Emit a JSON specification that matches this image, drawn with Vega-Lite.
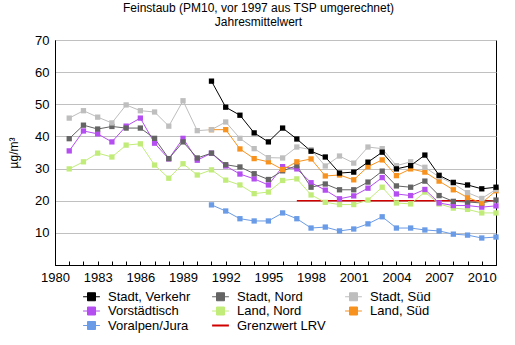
{
  "$schema": "https://vega.github.io/schema/vega-lite/v6.json",
  "width": 441,
  "height": 225,
  "autosize": {"type": "none"},
  "padding": {"left": 55, "top": 40, "right": 19, "bottom": 80},
  "background": "white",
  "config": {
    "font": "Liberation Sans",
    "view": {"stroke": "black", "strokeWidth": 1},
    "axis": {"labelFont": "Liberation Sans", "labelFontSize": 13, "labelColor": "black", "titleFont": "Liberation Sans", "titleColor": "black", "domainColor": "black", "tickColor": "black", "labelOverlap": false}
  },
  "title": {
    "text": "Feinstaub (PM10, vor 1997 aus TSP umgerechnet)",
    "subtitle": "Jahresmittelwert",
    "font": "Liberation Sans",
    "subtitleFont": "Liberation Sans",
    "fontSize": 12,
    "fontWeight": "normal",
    "subtitleFontSize": 12,
    "color": "black",
    "subtitleColor": "black",
    "anchor": "middle",
    "dx": -17,
    "offset": 5,
    "subtitlePadding": 2
  },
  "datasets": {
    "pm": [
      {"s": "Grenzwert LRV", "year": 1997, "v": 20},
      {"s": "Grenzwert LRV", "year": 2011, "v": 20},
      {"s": "Voralpen/Jura", "year": 1991, "v": 18.7},
      {"s": "Voralpen/Jura", "year": 1992, "v": 16.8},
      {"s": "Voralpen/Jura", "year": 1993, "v": 14.4},
      {"s": "Voralpen/Jura", "year": 1994, "v": 13.7},
      {"s": "Voralpen/Jura", "year": 1995, "v": 13.7},
      {"s": "Voralpen/Jura", "year": 1996, "v": 16.2},
      {"s": "Voralpen/Jura", "year": 1997, "v": 14.4},
      {"s": "Voralpen/Jura", "year": 1998, "v": 11.5},
      {"s": "Voralpen/Jura", "year": 1999, "v": 11.8},
      {"s": "Voralpen/Jura", "year": 2000, "v": 10.6},
      {"s": "Voralpen/Jura", "year": 2001, "v": 11.2},
      {"s": "Voralpen/Jura", "year": 2002, "v": 12.8},
      {"s": "Voralpen/Jura", "year": 2003, "v": 15.0},
      {"s": "Voralpen/Jura", "year": 2004, "v": 11.5},
      {"s": "Voralpen/Jura", "year": 2005, "v": 11.5},
      {"s": "Voralpen/Jura", "year": 2006, "v": 10.9},
      {"s": "Voralpen/Jura", "year": 2007, "v": 10.6},
      {"s": "Voralpen/Jura", "year": 2008, "v": 9.6},
      {"s": "Voralpen/Jura", "year": 2009, "v": 9.3},
      {"s": "Voralpen/Jura", "year": 2010, "v": 8.4},
      {"s": "Voralpen/Jura", "year": 2011, "v": 8.7},
      {"s": "Land, Nord", "year": 1981, "v": 29.9},
      {"s": "Land, Nord", "year": 1982, "v": 32.1},
      {"s": "Land, Nord", "year": 1983, "v": 34.8},
      {"s": "Land, Nord", "year": 1984, "v": 33.6},
      {"s": "Land, Nord", "year": 1985, "v": 37.3},
      {"s": "Land, Nord", "year": 1986, "v": 37.7},
      {"s": "Land, Nord", "year": 1987, "v": 31.1},
      {"s": "Land, Nord", "year": 1988, "v": 27.0},
      {"s": "Land, Nord", "year": 1989, "v": 31.5},
      {"s": "Land, Nord", "year": 1990, "v": 28.0},
      {"s": "Land, Nord", "year": 1991, "v": 29.6},
      {"s": "Land, Nord", "year": 1992, "v": 26.4},
      {"s": "Land, Nord", "year": 1993, "v": 24.9},
      {"s": "Land, Nord", "year": 1994, "v": 22.2},
      {"s": "Land, Nord", "year": 1995, "v": 22.7},
      {"s": "Land, Nord", "year": 1996, "v": 26.3},
      {"s": "Land, Nord", "year": 1997, "v": 26.8},
      {"s": "Land, Nord", "year": 1998, "v": 21.8},
      {"s": "Land, Nord", "year": 1999, "v": 19.5},
      {"s": "Land, Nord", "year": 2000, "v": 18.8},
      {"s": "Land, Nord", "year": 2001, "v": 18.8},
      {"s": "Land, Nord", "year": 2002, "v": 20.2},
      {"s": "Land, Nord", "year": 2003, "v": 24.2},
      {"s": "Land, Nord", "year": 2004, "v": 19.3},
      {"s": "Land, Nord", "year": 2005, "v": 19.0},
      {"s": "Land, Nord", "year": 2006, "v": 22.7},
      {"s": "Land, Nord", "year": 2007, "v": 19.0},
      {"s": "Land, Nord", "year": 2008, "v": 17.7},
      {"s": "Land, Nord", "year": 2009, "v": 17.3},
      {"s": "Land, Nord", "year": 2010, "v": 16.2},
      {"s": "Land, Nord", "year": 2011, "v": 16.2},
      {"s": "Vorstädtisch", "year": 1981, "v": 35.5},
      {"s": "Vorstädtisch", "year": 1982, "v": 41.7},
      {"s": "Vorstädtisch", "year": 1983, "v": 40.8},
      {"s": "Vorstädtisch", "year": 1984, "v": 38.3},
      {"s": "Vorstädtisch", "year": 1985, "v": 43.2},
      {"s": "Vorstädtisch", "year": 1986, "v": 45.7},
      {"s": "Vorstädtisch", "year": 1987, "v": 37.9},
      {"s": "Vorstädtisch", "year": 1988, "v": 33.0},
      {"s": "Vorstädtisch", "year": 1989, "v": 39.4},
      {"s": "Vorstädtisch", "year": 1990, "v": 32.6},
      {"s": "Vorstädtisch", "year": 1991, "v": 34.8},
      {"s": "Vorstädtisch", "year": 1992, "v": 30.8},
      {"s": "Vorstädtisch", "year": 1993, "v": 28.3},
      {"s": "Vorstädtisch", "year": 1994, "v": 26.8},
      {"s": "Vorstädtisch", "year": 1995, "v": 24.9},
      {"s": "Vorstädtisch", "year": 1996, "v": 30.6},
      {"s": "Vorstädtisch", "year": 1997, "v": 29.9},
      {"s": "Vorstädtisch", "year": 1998, "v": 25.6},
      {"s": "Vorstädtisch", "year": 1999, "v": 23.3},
      {"s": "Vorstädtisch", "year": 2000, "v": 20.6},
      {"s": "Vorstädtisch", "year": 2001, "v": 21.5},
      {"s": "Vorstädtisch", "year": 2002, "v": 23.9},
      {"s": "Vorstädtisch", "year": 2003, "v": 27.2},
      {"s": "Vorstädtisch", "year": 2004, "v": 22.1},
      {"s": "Vorstädtisch", "year": 2005, "v": 21.6},
      {"s": "Vorstädtisch", "year": 2006, "v": 23.5},
      {"s": "Vorstädtisch", "year": 2007, "v": 19.3},
      {"s": "Vorstädtisch", "year": 2008, "v": 18.5},
      {"s": "Vorstädtisch", "year": 2009, "v": 18.5},
      {"s": "Vorstädtisch", "year": 2010, "v": 18.0},
      {"s": "Vorstädtisch", "year": 2011, "v": 18.4},
      {"s": "Stadt, Nord", "year": 1981, "v": 39.3},
      {"s": "Stadt, Nord", "year": 1982, "v": 43.5},
      {"s": "Stadt, Nord", "year": 1983, "v": 42.3},
      {"s": "Stadt, Nord", "year": 1984, "v": 43.1},
      {"s": "Stadt, Nord", "year": 1985, "v": 42.6},
      {"s": "Stadt, Nord", "year": 1986, "v": 42.6},
      {"s": "Stadt, Nord", "year": 1987, "v": 39.4},
      {"s": "Stadt, Nord", "year": 1988, "v": 33.1},
      {"s": "Stadt, Nord", "year": 1989, "v": 38.3},
      {"s": "Stadt, Nord", "year": 1990, "v": 33.3},
      {"s": "Stadt, Nord", "year": 1991, "v": 34.8},
      {"s": "Stadt, Nord", "year": 1992, "v": 31.2},
      {"s": "Stadt, Nord", "year": 1993, "v": 30.5},
      {"s": "Stadt, Nord", "year": 1994, "v": 28.4},
      {"s": "Stadt, Nord", "year": 1995, "v": 26.6},
      {"s": "Stadt, Nord", "year": 1996, "v": 29.3},
      {"s": "Stadt, Nord", "year": 1997, "v": 30.9},
      {"s": "Stadt, Nord", "year": 1998, "v": 24.2},
      {"s": "Stadt, Nord", "year": 1999, "v": 25.2},
      {"s": "Stadt, Nord", "year": 2000, "v": 23.4},
      {"s": "Stadt, Nord", "year": 2001, "v": 23.4},
      {"s": "Stadt, Nord", "year": 2002, "v": 25.8},
      {"s": "Stadt, Nord", "year": 2003, "v": 29.2},
      {"s": "Stadt, Nord", "year": 2004, "v": 24.6},
      {"s": "Stadt, Nord", "year": 2005, "v": 24.2},
      {"s": "Stadt, Nord", "year": 2006, "v": 26.1},
      {"s": "Stadt, Nord", "year": 2007, "v": 21.6},
      {"s": "Stadt, Nord", "year": 2008, "v": 19.8},
      {"s": "Stadt, Nord", "year": 2009, "v": 19.6},
      {"s": "Stadt, Nord", "year": 2010, "v": 19.3},
      {"s": "Stadt, Nord", "year": 2011, "v": 20.2},
      {"s": "Land, Süd", "year": 1991, "v": 42.1},
      {"s": "Land, Süd", "year": 1992, "v": 42.1},
      {"s": "Land, Süd", "year": 1993, "v": 36.1},
      {"s": "Land, Süd", "year": 1994, "v": 33.1},
      {"s": "Land, Süd", "year": 1995, "v": 32.1},
      {"s": "Land, Süd", "year": 1996, "v": 29.7},
      {"s": "Land, Süd", "year": 1997, "v": 32.1},
      {"s": "Land, Süd", "year": 1998, "v": 33.0},
      {"s": "Land, Süd", "year": 1999, "v": 27.7},
      {"s": "Land, Süd", "year": 2000, "v": 28.0},
      {"s": "Land, Süd", "year": 2001, "v": 26.5},
      {"s": "Land, Süd", "year": 2002, "v": 30.6},
      {"s": "Land, Süd", "year": 2003, "v": 32.7},
      {"s": "Land, Süd", "year": 2004, "v": 27.8},
      {"s": "Land, Süd", "year": 2005, "v": 29.9},
      {"s": "Land, Süd", "year": 2006, "v": 28.9},
      {"s": "Land, Süd", "year": 2007, "v": 26.1},
      {"s": "Land, Süd", "year": 2008, "v": 23.4},
      {"s": "Land, Süd", "year": 2009, "v": 21.0},
      {"s": "Land, Süd", "year": 2010, "v": 19.3},
      {"s": "Land, Süd", "year": 2011, "v": 23.1},
      {"s": "Stadt, Süd", "year": 1981, "v": 45.7},
      {"s": "Stadt, Süd", "year": 1982, "v": 48.0},
      {"s": "Stadt, Süd", "year": 1983, "v": 46.0},
      {"s": "Stadt, Süd", "year": 1984, "v": 44.2},
      {"s": "Stadt, Süd", "year": 1985, "v": 49.8},
      {"s": "Stadt, Süd", "year": 1986, "v": 48.0},
      {"s": "Stadt, Süd", "year": 1987, "v": 47.6},
      {"s": "Stadt, Süd", "year": 1988, "v": 43.2},
      {"s": "Stadt, Süd", "year": 1989, "v": 51.1},
      {"s": "Stadt, Süd", "year": 1990, "v": 41.8},
      {"s": "Stadt, Süd", "year": 1991, "v": 42.1},
      {"s": "Stadt, Süd", "year": 1992, "v": 44.5},
      {"s": "Stadt, Süd", "year": 1993, "v": 39.4},
      {"s": "Stadt, Süd", "year": 1994, "v": 36.2},
      {"s": "Stadt, Süd", "year": 1995, "v": 33.4},
      {"s": "Stadt, Süd", "year": 1996, "v": 33.3},
      {"s": "Stadt, Süd", "year": 1997, "v": 36.7},
      {"s": "Stadt, Süd", "year": 1998, "v": 35.9},
      {"s": "Stadt, Süd", "year": 1999, "v": 30.8},
      {"s": "Stadt, Süd", "year": 2000, "v": 33.9},
      {"s": "Stadt, Süd", "year": 2001, "v": 31.7},
      {"s": "Stadt, Süd", "year": 2002, "v": 36.7},
      {"s": "Stadt, Süd", "year": 2003, "v": 36.2},
      {"s": "Stadt, Süd", "year": 2004, "v": 30.9},
      {"s": "Stadt, Süd", "year": 2005, "v": 32.1},
      {"s": "Stadt, Süd", "year": 2006, "v": 30.4},
      {"s": "Stadt, Süd", "year": 2007, "v": 27.4},
      {"s": "Stadt, Süd", "year": 2008, "v": 25.3},
      {"s": "Stadt, Süd", "year": 2009, "v": 22.5},
      {"s": "Stadt, Süd", "year": 2010, "v": 20.7},
      {"s": "Stadt, Süd", "year": 2011, "v": 23.5},
      {"s": "Stadt, Verkehr", "year": 1991, "v": 57.2},
      {"s": "Stadt, Verkehr", "year": 1992, "v": 49.1},
      {"s": "Stadt, Verkehr", "year": 1993, "v": 46.6},
      {"s": "Stadt, Verkehr", "year": 1994, "v": 41.1},
      {"s": "Stadt, Verkehr", "year": 1995, "v": 38.3},
      {"s": "Stadt, Verkehr", "year": 1996, "v": 42.6},
      {"s": "Stadt, Verkehr", "year": 1997, "v": 39.2},
      {"s": "Stadt, Verkehr", "year": 1998, "v": 35.4},
      {"s": "Stadt, Verkehr", "year": 1999, "v": 33.6},
      {"s": "Stadt, Verkehr", "year": 2000, "v": 28.6},
      {"s": "Stadt, Verkehr", "year": 2001, "v": 28.9},
      {"s": "Stadt, Verkehr", "year": 2002, "v": 32.0},
      {"s": "Stadt, Verkehr", "year": 2003, "v": 35.1},
      {"s": "Stadt, Verkehr", "year": 2004, "v": 29.9},
      {"s": "Stadt, Verkehr", "year": 2005, "v": 30.9},
      {"s": "Stadt, Verkehr", "year": 2006, "v": 34.2},
      {"s": "Stadt, Verkehr", "year": 2007, "v": 27.9},
      {"s": "Stadt, Verkehr", "year": 2008, "v": 25.7},
      {"s": "Stadt, Verkehr", "year": 2009, "v": 24.9},
      {"s": "Stadt, Verkehr", "year": 2010, "v": 23.7},
      {"s": "Stadt, Verkehr", "year": 2011, "v": 24.2}
    ],
    "note": [{"label": "Daten: BAFU und Empa"}]
  },
  "encoding": {
    "x": {
      "field": "year", "type": "quantitative",
      "scale": {"domain": [1980, 2011], "nice": false, "zero": false},
      "axis": {
        "title": null,
        "values": [1980,1981,1982,1983,1984,1985,1986,1987,1988,1989,1990,1991,1992,1993,1994,1995,1996,1997,1998,1999,2000,2001,2002,2003,2004,2005,2006,2007,2008,2009,2010,2011],
        "format": "d",
        "labelExpr": "(datum.value - 1980) % 3 == 0 ? datum.label : ''",
        "grid": false,
        "tickSize": -4,
        "labelPadding": 10,
        "labelFlush": false,
        "labelOverlap": false
      }
    },
    "y": {
      "field": "v", "type": "quantitative",
      "scale": {"domain": [0, 70], "nice": false, "zero": true},
      "axis": {
        "title": "µg/m³",
        "titleFontSize": 12,
        "titleFontWeight": "normal",
        "titlePadding": 14,
        "values": [10, 20, 30, 40, 50, 60, 70],
        "grid": true,
        "gridColor": "#c0c0c0",
        "gridOpacity": 1,
        "ticks": false,
        "labelPadding": 6,
        "labelOverlap": false
      }
    }
  },
  "layer": [
    {
      "data": {"name": "pm"},
      "transform": [{"filter": "datum.s == 'Grenzwert LRV'"}],
      "mark": {"type": "line", "strokeWidth": 1.5},
      "encoding": {
        "color": {"field": "s", "type": "nominal"}
      }
    },
    {
      "data": {"name": "pm"},
      "transform": [{"filter": "datum.s != 'Grenzwert LRV'"}],
      "mark": {"type": "line", "strokeWidth": 1, "point": {"shape": "square", "size": 28, "filled": true, "opacity": 1}},
      "encoding": {
        "color": {
          "field": "s", "type": "nominal",
          "scale": {
            "domain": ["Stadt, Verkehr", "Stadt, Nord", "Stadt, Süd", "Vorstädtisch", "Land, Nord", "Land, Süd", "Voralpen/Jura", "Grenzwert LRV"],
            "range": ["#000000", "#646464", "#bebebe", "#b44ef0", "#c2ec7a", "#f7921e", "#6a9be6", "#d00000"]
          },
          "legend": {
            "title": null,
            "orient": "none",
            "legendX": 30,
            "legendY": 250,
            "direction": "horizontal",
            "columns": 3,
            "padding": 0,
            "columnPadding": 17,
            "rowPadding": 0.5,
            "symbolSize": 64,
            "symbolStrokeWidth": 1,
            "labelOffset": 10,
            "labelFont": "Liberation Sans",
            "labelFontSize": 13,
            "labelColor": "black",
            "labelLimit": 200,
            "encode": {
              "symbols": {
                "update": {
                  "shape": {"signal": "datum.value == 'Grenzwert LRV' ? 'M-2.1,0H2.1' : 'M-2.1,0H2.1M-1,-1H1V1H-1Z'"},
                  "fill": {"scale": "color", "field": "value"},
                  "stroke": {"scale": "color", "field": "value"},
                  "strokeWidth": {"signal": "datum.value == 'Grenzwert LRV' ? 2 : 1"},
                  "opacity": {"value": 1}
                }
              }
            }
          }
        }
      }
    },
    {
      "data": {"name": "note"},
      "mark": {"type": "text", "align": "right", "baseline": "middle", "dx": -4, "dy": 8, "fontSize": 11, "font": "Liberation Sans", "color": "black"},
      "encoding": {
        "x": {"datum": 2011, "type": "quantitative"},
        "y": {"datum": 70, "type": "quantitative"},
        "text": {"field": "label"}
      }
    }
  ]
}
